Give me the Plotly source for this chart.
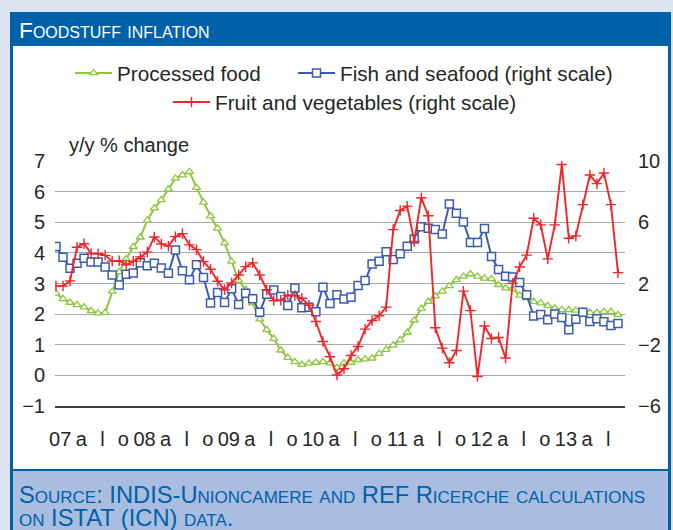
import plotly.graph_objects as go

# ---------------- data (monthly, Jan 2007 .. Sep 2013) ----------------
processed_food = [2.68, 2.50, 2.38, 2.30, 2.23, 2.11, 2.03, 2.05, 2.74, 3.38,
                  3.80, 4.20, 4.51, 5.06, 5.46, 5.73, 6.08, 6.43, 6.54, 6.65,
                  6.13, 5.65, 5.20, 4.80, 4.32, 3.72, 3.10, 2.80, 2.36, 1.84,
                  1.49, 1.20, 0.82, 0.58, 0.44, 0.35, 0.39, 0.42, 0.44, 0.40,
                  0.25, 0.40, 0.42, 0.51, 0.53, 0.56, 0.71, 0.84, 0.98, 1.16,
                  1.40, 1.80, 2.18, 2.41, 2.59, 2.74, 2.92, 3.12, 3.23, 3.31,
                  3.23, 3.17, 3.15, 2.96, 2.85, 2.83, 2.61, 2.52, 2.41, 2.36,
                  2.27, 2.20, 2.14, 2.14, 2.12, 2.08, 2.05, 2.05, 2.08, 2.08,
                  1.98]

fish_seafood = [4.41, 3.72, 3.00, 3.33, 3.65, 3.41, 3.40, 3.07, 2.56, 1.91,
                2.60, 2.69, 3.35, 3.16, 3.33, 3.02, 2.67, 4.19, 2.84, 2.24,
                3.22, 2.39, 0.72, 1.41, 0.76, 1.65, 0.63, 1.37, 1.00, 0.13,
                1.30, 1.57, 1.15, 0.57, 1.70, 0.42, 0.45, 0.15, 1.76, 0.70,
                1.26, 0.99, 1.11, 1.87, 2.19, 3.28, 3.45, 4.08, 3.56, 3.95,
                4.43, 4.90, 5.71, 5.61, 5.52, 5.24, 7.20, 6.59, 6.02, 4.67,
                4.67, 5.60, 3.76, 2.91, 2.47, 2.42, 2.07, 1.26, -0.13, -0.03,
                -0.37, 0.01, -0.22, -1.02, -0.33, 0.12, -0.48, -0.31, -0.50, -0.75,
                -0.61]

fruit_veg = [1.83, 1.83, 2.17, 4.37, 4.60, 3.95, 3.95, 3.84, 3.46, 3.49,
             3.22, 3.45, 3.74, 4.05, 5.04, 4.58, 4.44, 5.06, 5.26, 4.52,
             4.21, 3.43, 2.93, 2.15, 1.59, 2.04, 2.56, 3.10, 3.35, 2.56,
             1.59, 0.89, 0.91, 1.23, 1.21, 1.04, 0.58, -0.48, -1.79, -2.78,
             -3.98, -3.57, -2.70, -2.11, -0.98, -0.42, -0.11, 0.46, 5.52, 6.77,
             7.05, 4.74, 7.60, 6.42, -0.89, -2.22, -3.18, -2.38, 1.50, 0.23,
             -4.07, -0.78, -1.59, -1.53, -2.87, 2.02, 3.08, 3.85, 6.26, 5.83,
             3.61, 5.83, 9.77, 4.96, 5.11, 7.15, 9.09, 8.52, 9.22, 7.15,
             2.71]

months = list(range(len(processed_food)))

tick_labels = ["07", "a", "l", "o", "08", "a", "l", "o", "09", "a", "l", "o",
               "10", "a", "l", "o", "11", "a", "l", "o", "12", "a", "l", "o",
               "13", "a", "l"]
tick_positions = [3 * k + 0.6 for k in range(len(tick_labels))]

left_ticks = [-1, 0, 1, 2, 3, 4, 5, 6, 7]
right_ticks = [-6, -2, 2, 6, 10]

# ---------------- styling ----------------
GREEN = "#8dc63f"
BLUE = "#3b5cab"
RED = "#f0262a"
DARKBLUE = "#0061a9"
BG = "#dde4f1"
FONT = "Liberation Sans, Arial, sans-serif"
TXT = "#262626"

W, H = 673, 530
PL, PR, PT, PB = 55, 625, 161, 406


def xp(px):
    return (px - PL) / (PR - PL)


def yp(py):
    return (PB - py) / (PB - PT)


fig = go.Figure()

fig.add_trace(go.Scatter(
    x=months, y=processed_food, name="Processed food", mode="lines+markers",
    line=dict(color=GREEN, width=2),
    marker=dict(symbol="triangle-up", size=7, color="white",
                line=dict(color=GREEN, width=1.3)),
    yaxis="y", legend="legend"))

fig.add_trace(go.Scatter(
    x=months, y=fish_seafood, name="Fish and seafood (right scale)",
    mode="lines+markers",
    line=dict(color=BLUE, width=2),
    marker=dict(symbol="square", size=8, color="white",
                line=dict(color=BLUE, width=1.5)),
    yaxis="y2", legend="legend3"))

fig.add_trace(go.Scatter(
    x=months, y=fruit_veg, name="Fruit and vegetables (right scale)",
    mode="lines+markers",
    line=dict(color=RED, width=1.9),
    marker=dict(symbol="cross-thin-open", size=7.5, color=RED,
                line=dict(color=RED, width=1.4)),
    yaxis="y2", legend="legend2"))

shapes = [
    dict(type="rect", xref="paper", yref="paper", x0=xp(10), x1=xp(671),
         y0=yp(12), y1=yp(540), fillcolor=DARKBLUE, line=dict(width=0),
         layer="below"),
    dict(type="rect", xref="paper", yref="paper", x0=xp(13), x1=xp(668),
         y0=yp(46), y1=yp(469), fillcolor="white", line=dict(width=0),
         layer="below"),
    dict(type="rect", xref="paper", yref="paper", x0=xp(13), x1=xp(668),
         y0=yp(471), y1=yp(540), fillcolor="#a9bde0", line=dict(width=0),
         layer="below"),
]

annotations = [
    dict(text="Foodstuff inflation", xref="paper", yref="paper",
         x=xp(17), y=yp(30), xanchor="left", yanchor="middle", showarrow=False,
         font=dict(family=FONT, size=22.8, color="white", variant="small-caps")),
    dict(text="y/y % change", xref="paper", yref="paper",
         x=xp(67), y=yp(145), xanchor="left", yanchor="middle", showarrow=False,
         font=dict(family=FONT, size=20, color=TXT)),
    dict(text="Source: INDIS-Unioncamere and REF Ricerche calculations",
         xref="paper", yref="paper", x=xp(17), y=yp(495), xanchor="left",
         yanchor="middle", showarrow=False,
         font=dict(family=FONT, size=23.7, color=DARKBLUE, variant="small-caps")),
    dict(text="on ISTAT (ICN) data.",
         xref="paper", yref="paper", x=xp(17), y=yp(518), xanchor="left",
         yanchor="middle", showarrow=False,
         font=dict(family=FONT, size=23.7, color=DARKBLUE, variant="small-caps")),
]


def leg(xpx, ypx):
    return dict(orientation="h", xref="container", yref="container",
                x=xpx / W, y=1 - ypx / H, xanchor="left", yanchor="middle",
                bgcolor="rgba(0,0,0,0)", itemwidth=37,
                font=dict(family=FONT, size=20.7, color=TXT))


fig.update_layout(
    width=W, height=H, autosize=False,
    margin=dict(l=PL, r=W - PR, t=PT, b=H - PB, pad=0),
    paper_bgcolor=BG, plot_bgcolor="rgba(0,0,0,0)",
    font=dict(family=FONT, size=20, color=TXT),
    shapes=shapes, annotations=annotations,
    xaxis=dict(range=[-0.14, 81.0], showgrid=False, zeroline=False,
               tickmode="array", tickvals=tick_positions, ticktext=tick_labels,
               ticks="", ticklabelstandoff=14, showline=True,
               linecolor="#404040", linewidth=1.5,
               tickfont=dict(family=FONT, size=20, color=TXT)),
    yaxis=dict(range=[-1, 7], tickmode="array", tickvals=left_ticks,
               showgrid=True, gridcolor="#a8a8a8", gridwidth=1.4,
               zeroline=False, ticks="", ticklabelstandoff=9,
               tickfont=dict(family=FONT, size=20, color=TXT)),
    yaxis2=dict(range=[-6, 10], overlaying="y", side="right",
                tickmode="array", tickvals=right_ticks, showgrid=False,
                zeroline=False, ticks="", ticklabelstandoff=12,
                tickfont=dict(family=FONT, size=20, color=TXT)),
    legend=leg(70, 73),
    legend3=leg(293, 73),
    legend2=leg(168, 102),
    showlegend=True,
)

fig.write_html(
    "out.html",
    config={"displayModeBar": False},
    post_script="document.body.style.margin='0';"
                "document.body.style.background='" + BG + "';"
                "document.body.style.overflow='hidden';")
